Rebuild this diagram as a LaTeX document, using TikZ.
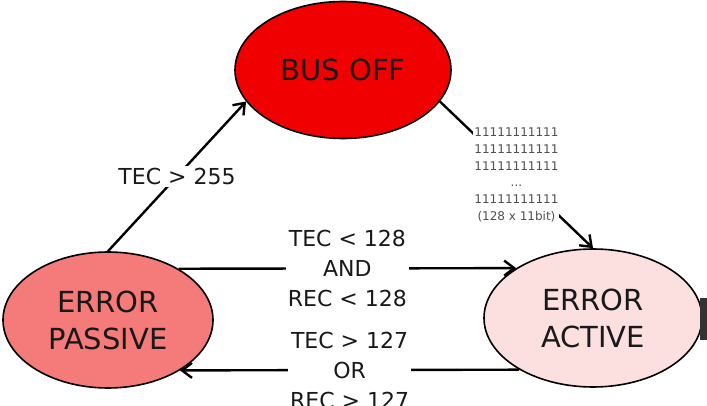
\documentclass[tikz,border=0pt]{standalone}
\usepackage{fontspec}
\setmainfont{DejaVu Sans}
\usetikzlibrary{shapes.geometric,arrows.meta}
\definecolor{busred}{RGB}{240,0,0}
\definecolor{passred}{RGB}{245,122,122}
\definecolor{actpink}{RGB}{252,224,224}
\definecolor{bitgray}{RGB}{80,80,80}
\begin{document}
\begin{tikzpicture}[x=1pt,y=-1pt]
    \tikzstyle{state}=[draw=black, line width=1.6pt, ellipse, inner sep=0pt, align=center, text=black!90, font=\fontsize{29}{37}\selectfont]
    \tikzstyle{trans}=[draw=black, line width=2.4pt, -{Straight Barb[length=10pt,width=15pt]}]
    \tikzstyle{cond}=[fill=white, inner sep=2pt, align=center, text=black!90, font=\fontsize{22}{30}\selectfont]
    \tikzstyle{bits}=[fill=white, inner sep=1pt, align=center, text=bitgray, font=\fontsize{12}{16.8}\selectfont]
    \useasboundingbox (0,0) rectangle (707,406);
    \node [state, fill=busred, minimum width=216pt, minimum height=137pt] (boff) at (343,70) {BUS OFF};
    \node [state, fill=passred, minimum width=210pt, minimum height=136pt] (epas) at (108,320) {ERROR\\PASSIVE};
    \node [state, fill=actpink, minimum width=218pt, minimum height=138pt] (eact) at (593,318) {ERROR\\ACTIVE};
    \draw [trans] (epas.north) -- node [cond] {TEC > 255} (boff.198.6);
    \draw [trans] (boff.-18.8) -- node [bits] {11111111111\\11111111111\\11111111111\\...\\11111111111\\(128 x 11bit)} (eact.north);
    \draw [trans] (epas.36.5) -- node [cond] {TEC < 128\\AND\\REC < 128} (eact.147.5);
    \draw [trans] (eact.215.8) -- node [cond] {TEC > 127\\OR\\REC > 127} (epas.-35.2);
    \fill [black!80] (700,298) rectangle (712,340);
\end{tikzpicture}
\end{document}
